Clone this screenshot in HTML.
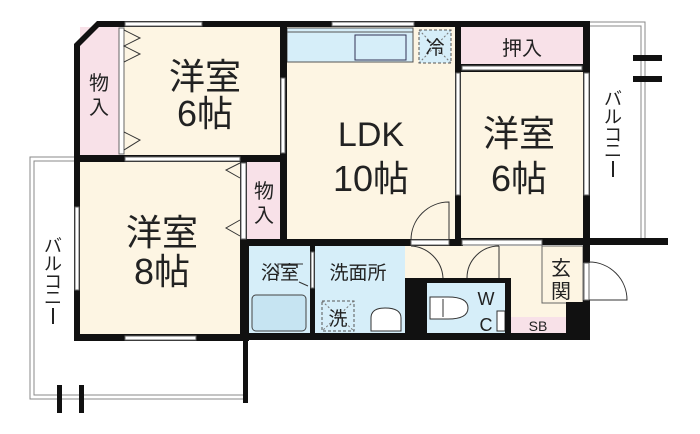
<!DOCTYPE html>
<html><head><meta charset="utf-8"><style>
html,body{margin:0;padding:0;background:#fff;width:700px;height:434px;overflow:hidden}
text{font-family:"Liberation Sans","Noto Sans CJK JP",sans-serif;fill:#222}
</style></head><body>
<svg width="700" height="434" viewBox="0 0 700 434" xmlns="http://www.w3.org/2000/svg">
<g fill="none" stroke="#888" stroke-width="1">
<path d="M74 157 H30 V399 H243"/><path d="M74 161 H34 V395 H243"/>
<path d="M590 22 H645 V240"/><path d="M590 26 H641 V240"/>
</g>
<rect x="57" y="385" width="5" height="28" fill="#111"/><rect x="79" y="385" width="5" height="28" fill="#111"/>
<rect x="633" y="55" width="29" height="6" fill="#111"/><rect x="633" y="76" width="29" height="6" fill="#111"/>
<rect x="80" y="27" width="40" height="130" fill="#f8e1e8"/>
<rect x="124" y="27" width="157" height="130" fill="#fdf5e3"/>
<rect x="80" y="162" width="161" height="173" fill="#fdf5e3"/>
<rect x="247" y="162" width="34" height="78" fill="#f8e1e8"/>
<rect x="287" y="27" width="169" height="213" fill="#fdf5e3"/>
<rect x="461" y="27" width="123" height="38" fill="#f8e1e8"/>
<rect x="461" y="72" width="123" height="168" fill="#fdf5e3"/>
<rect x="249" y="246" width="61" height="88" fill="#d6eef9"/>
<rect x="315" y="246" width="90" height="88" fill="#d6eef9"/>
<rect x="405" y="246" width="178" height="88" fill="#fdf5e3"/>
<rect x="427" y="283" width="79" height="50" fill="#d6eef9"/>
<rect x="511" y="317" width="55" height="16" fill="#f8e1e8"/>
<rect x="542" y="246" width="41" height="57" fill="#fdf5e3" stroke="#666" stroke-width="1"/>
<rect x="287" y="28" width="126" height="34" fill="#d6eef9" stroke="#555" stroke-width="1"/>
<line x1="287" y1="32" x2="413" y2="32" stroke="#555"/>
<rect x="355" y="35" width="51" height="25" fill="none" stroke="#335" stroke-width="1"/>
<rect x="419" y="30" width="32" height="33" fill="#d6eef9" stroke="#555" stroke-dasharray="3,2"/>
<path d="M419 30 L451 63 M451 30 L419 63" stroke="#777" stroke-dasharray="2,2"/>
<rect x="252" y="295" width="54" height="36" rx="4" fill="#c6e4f2" stroke="#444"/>
<rect x="322" y="301" width="32" height="30" fill="none" stroke="#555" stroke-dasharray="3,2"/>
<path d="M322 301 L354 331 M354 301 L322 331" stroke="#777" stroke-dasharray="2,2"/>
<path d="M371 331 V318 Q371 308 385 308 Q401 308 401 318 V331 Z" fill="#fff" stroke="#333"/>
<path d="M430 297 H448 Q468 297 468 308 Q468 319 448 319 H430 Z" fill="#fff" stroke="#333"/>
<line x1="443" y1="299" x2="443" y2="317" stroke="#333"/>
<rect x="497" y="311" width="8" height="20" fill="#fff" stroke="#333"/>
<g fill="#111">
<path d="M97 21 H590 V27 H99 L80 46 V341 H74 V44 Z"/>
<rect x="74" y="155" width="213" height="7"/>
<rect x="280" y="21" width="7" height="225"/>
<rect x="240" y="155" width="7" height="91"/>
<rect x="240" y="239" width="223" height="7"/>
<rect x="455" y="21" width="6" height="225"/>
<rect x="583" y="21" width="7" height="242"/>
<rect x="461" y="64" width="122" height="8"/>
<rect x="455" y="238" width="213" height="7"/>
<rect x="74" y="334" width="174" height="7"/>
<rect x="240" y="240" width="9" height="101"/>
<rect x="243" y="334" width="5" height="69"/>
<rect x="243" y="333" width="347" height="7"/>
<rect x="310" y="246" width="5" height="88"/>
<rect x="405" y="278" width="22" height="58"/>
<rect x="405" y="278" width="106" height="5"/>
<rect x="505" y="278" width="6" height="56"/>
<rect x="566" y="302" width="24" height="38"/>
<rect x="583" y="300" width="7" height="40"/>
</g>
<g fill="#fff" stroke="#666" stroke-width="1">
<rect x="125" y="22" width="77" height="4"/>
<rect x="332" y="22" width="82" height="4"/>
<rect x="125" y="157" width="115" height="4"/>
<rect x="75" y="207" width="4" height="83"/>
<rect x="125" y="336" width="71" height="4"/>
<rect x="281" y="78" width="4" height="75"/>
<rect x="119" y="28" width="5" height="126"/>
<rect x="241" y="163" width="5" height="76"/>
<rect x="456" y="73" width="4" height="122"/>
<rect x="584" y="73" width="5" height="122"/>
<rect x="462" y="66" width="120" height="4"/>
<rect x="411" y="240" width="38" height="5"/>
<rect x="462" y="240" width="80" height="5"/>
<rect x="584" y="263" width="5" height="37"/>
<rect x="311" y="252" width="3" height="36"/>
</g>
<g fill="none" stroke="#333" stroke-width="1">
<path d="M124 30 L140 38 L124 46 L140 54 L124 62"/>
<path d="M124 132 L140 140 L124 150"/>
<path d="M240 163 L226 170 L240 178"/>
<path d="M240 220 L226 228 L240 236"/>
<path d="M449 240 V202 A38 38 0 0 0 411 240"/>
<path d="M411 246 A34 34 0 0 1 443 278"/>
<path d="M499 246 V278 M499 246 A32 32 0 0 0 467 278"/>
<path d="M589 300 H627 A38 38 0 0 0 589 262"/>
<path d="M278 276 V264 H303 M299 282 L308 286"/>
</g>
<text x="205" y="89" font-size="36" text-anchor="middle">洋室</text>
<text x="205" y="126" font-size="36" text-anchor="middle">6帖</text>
<text x="162" y="245" font-size="36" text-anchor="middle">洋室</text>
<text x="162" y="284" font-size="36" text-anchor="middle">8帖</text>
<text x="371" y="146" font-size="34" text-anchor="middle">LDK</text>
<text x="371" y="191" font-size="36" text-anchor="middle">10帖</text>
<text x="519" y="146" font-size="36" text-anchor="middle">洋室</text>
<text x="519" y="191" font-size="36" text-anchor="middle">6帖</text>
<text x="99" y="90" font-size="20" text-anchor="middle">物</text>
<text x="99" y="114" font-size="20" text-anchor="middle">入</text>
<text x="264" y="198" font-size="20" text-anchor="middle">物</text>
<text x="264" y="222" font-size="20" text-anchor="middle">入</text>
<text x="522" y="55" font-size="20" text-anchor="middle">押入</text>
<text x="435" y="54" font-size="19" text-anchor="middle">冷</text>
<text x="280" y="279" font-size="19" text-anchor="middle">浴室</text>
<text x="358" y="279" font-size="19" text-anchor="middle">洗面所</text>
<text x="338" y="325" font-size="19" text-anchor="middle">洗</text>
<text x="561" y="275" font-size="20" text-anchor="middle">玄</text>
<text x="561" y="298" font-size="20" text-anchor="middle">関</text>
<text x="486" y="305" font-size="18" text-anchor="middle">W</text>
<text x="486" y="331" font-size="18" text-anchor="middle">C</text>
<text x="538" y="331" font-size="14" text-anchor="middle">SB</text>
<g font-size="18" text-anchor="middle">
<text x="53" y="252">バ</text><text x="53" y="270">ル</text><text x="53" y="288">コ</text><text x="53" y="304">ニ</text>
<text x="613" y="105">バ</text><text x="613" y="123">ル</text><text x="613" y="141">コ</text><text x="613" y="157">ニ</text>
</g>
<rect x="52" y="308" width="2" height="16" fill="#222"/>
<rect x="612" y="161" width="2" height="16" fill="#222"/>
</svg>
</body></html>
